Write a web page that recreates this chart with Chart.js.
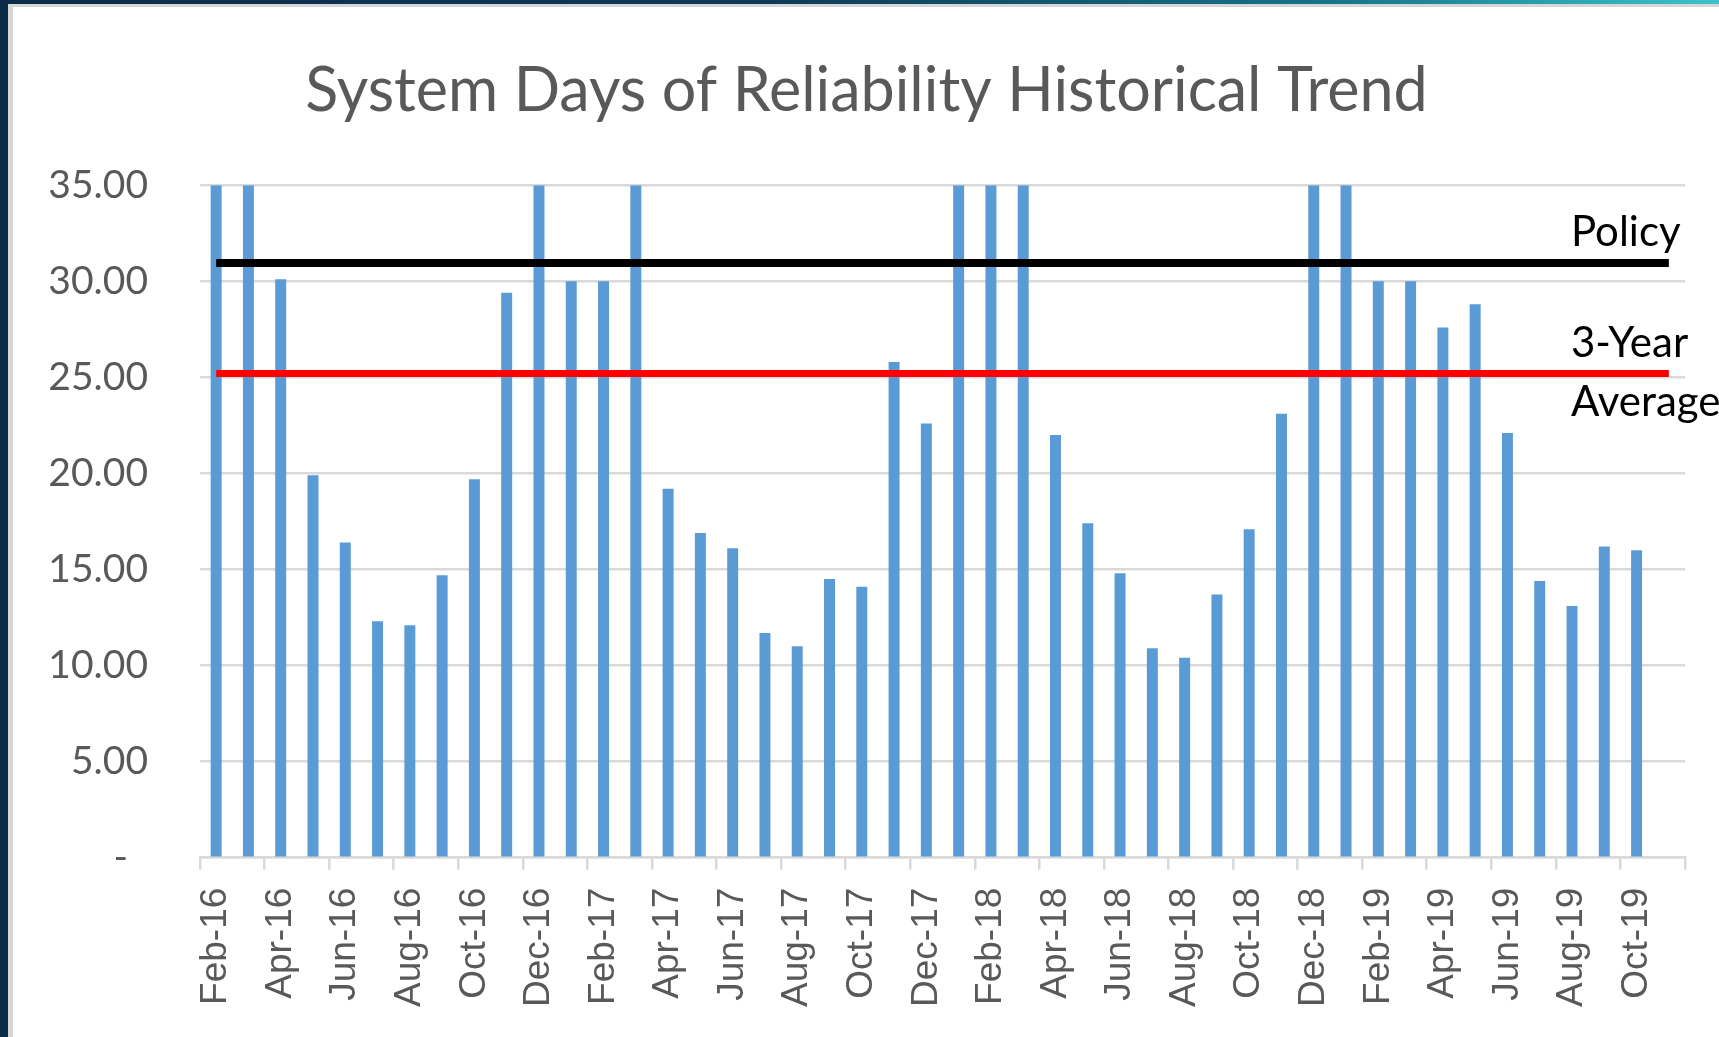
<!DOCTYPE html>
<html>
<head>
<meta charset="utf-8">
<title>System Days of Reliability Historical Trend</title>
<script src="https://cdn.jsdelivr.net/npm/chart.js@4.4.1/dist/chart.umd.min.js"></script>
<style>
    html, body { margin: 0; padding: 0; overflow: hidden; }
    body {
        width: 1719px;
        height: 1037px;
        position: relative;
        background: linear-gradient(to right, #0b2c49 0%, #0e3a5a 45%, #16768a 78%, #3fc2c9 100%);
    }
    .panel {
        position: absolute;
        left: 8px;
        top: 4px;
        right: -20px;
        bottom: -20px;
        background: #ffffff;
        border-left: 5px solid #d6d6d6;
        border-top: 3px solid #d6d6d6;
    }
    .chart-box {
        position: absolute;
        left: 0;
        top: 0;
        width: 1719px;
        height: 1037px;
    }
</style>
</head>
<body>
<div class="panel"></div>
<div class="chart-box"><canvas id="reliabilityChart"></canvas></div>

<script>
// Global data
const months = [
    "Feb-16", "Mar-16", "Apr-16", "May-16", "Jun-16", "Jul-16", "Aug-16", "Sep-16", "Oct-16", "Nov-16", "Dec-16",
    "Jan-17", "Feb-17", "Mar-17", "Apr-17", "May-17", "Jun-17", "Jul-17", "Aug-17", "Sep-17", "Oct-17", "Nov-17", "Dec-17",
    "Jan-18", "Feb-18", "Mar-18", "Apr-18", "May-18", "Jun-18", "Jul-18", "Aug-18", "Sep-18", "Oct-18", "Nov-18", "Dec-18",
    "Jan-19", "Feb-19", "Mar-19", "Apr-19", "May-19", "Jun-19", "Jul-19", "Aug-19", "Sep-19", "Oct-19", "Nov-19"
];
const daysOfReliability = [
    35.0, 35.0, 30.1, 19.9, 16.4, 12.3, 12.1, 14.7, 19.7, 29.4, 35.0,
    30.0, 30.0, 35.0, 19.2, 16.9, 16.1, 11.7, 11.0, 14.5, 14.1, 25.8, 22.6,
    35.0, 35.0, 35.0, 22.0, 17.4, 14.8, 10.9, 10.4, 13.7, 17.1, 23.1, 35.0,
    35.0, 30.0, 30.0, 27.6, 28.8, 22.1, 14.4, 13.1, 16.2, 16.0, null
];
const policyLevel = 30.95;
const threeYearAverage = 25.2;
const yTicks = [0, 5, 10, 15, 20, 25, 30, 35];

// ==============================================
// Reference line labels (Policy / 3-Year Average)
// ==============================================
const lineLabels = {
    id: "lineLabels",
    afterDatasetsDraw(chart) {
        const ctx = chart.ctx;
        const y = chart.scales.y;
        const x = chart.chartArea.right - 114;
        ctx.save();
        ctx.fillStyle = "#000000";
        ctx.font = "42px Lato";
        ctx.textAlign = "left";
        ctx.textBaseline = "alphabetic";
        ctx.fillText("Policy", x, y.getPixelForValue(policyLevel) - 17);
        ctx.fillText("3-Year", x, y.getPixelForValue(threeYearAverage) - 16);
        ctx.fillText("Average", x, y.getPixelForValue(threeYearAverage) + 43);
        ctx.restore();
    }
};

// Horizontal reference line from the first to the last month
function flatLine(value) {
    return [{ x: months[0], y: value }, { x: months[months.length - 1], y: value }];
}

// ==============================================
// Build chart
// ==============================================
function initializeChart() {
    const ctx = document.getElementById("reliabilityChart").getContext("2d");

    new Chart(ctx, {
        type: "bar",
        data: {
            labels: months,
            datasets: [
                {
                    label: "System Days of Reliability",
                    data: daysOfReliability,
                    backgroundColor: "#5b9bd5",
                    barPercentage: 0.34,
                    categoryPercentage: 1.0,
                    order: 2
                },
                {
                    type: "line",
                    label: "Policy",
                    data: flatLine(policyLevel),
                    borderColor: "#000000",
                    borderWidth: 8,
                    pointRadius: 0,
                    fill: false,
                    order: 1
                },
                {
                    type: "line",
                    label: "3-Year Average",
                    data: flatLine(threeYearAverage),
                    borderColor: "#ff0000",
                    borderWidth: 7,
                    pointRadius: 0,
                    fill: false,
                    order: 0
                }
            ]
        },
        options: {
            responsive: true,
            maintainAspectRatio: false,
            animation: false,
            layout: {
                padding: { left: 48, right: 34, top: 0, bottom: 12 }
            },
            plugins: {
                legend: { display: false },
                tooltip: { enabled: false },
                title: {
                    display: true,
                    text: "System Days of Reliability Historical Trend",
                    color: "#595959",
                    font: { family: "Lato", size: 61, weight: "normal" },
                    padding: { top: 55, bottom: 57 }
                }
            },
            scales: {
                x: {
                    offset: true,
                    // keep the rotated last label from pushing the plot inwards
                    afterFit: (scale) => { scale.paddingRight = 0; scale.paddingLeft = 0; },
                    grid: {
                        offset: true,
                        drawOnChartArea: false,
                        drawTicks: true,
                        tickLength: 12,
                        lineWidth: 2.5,
                        color: (c) => (c.index === undefined || c.index % 2 === 0) ? "#d9d9d9" : "rgba(0,0,0,0)"
                    },
                    border: { display: true, color: "#d9d9d9", width: 2.5 },
                    ticks: {
                        autoSkip: false,
                        minRotation: 90,
                        maxRotation: 90,
                        padding: 18,
                        color: "#595959",
                        font: { family: "Liberation Sans", size: 37 },
                        callback: function (value, index) {
                            return index % 2 === 0 ? this.getLabelForValue(value) : "";
                        }
                    }
                },
                y: {
                    min: yTicks[0],
                    max: yTicks[yTicks.length - 1],
                    afterBuildTicks: (scale) => { scale.ticks = yTicks.map(v => ({ value: v })); },
                    // fixed axis width so the plot starts where the original does
                    afterFit: (scale) => { scale.width = 152; },
                    grid: {
                        color: "#d9d9d9",
                        lineWidth: 2.5,
                        drawTicks: false
                    },
                    border: { display: false },
                    ticks: {
                        padding: 52,
                        color: "#595959",
                        font: { family: "Lato", size: 39 },
                        callback: (v) => v === 0 ? "-  " : v.toFixed(2)
                    }
                }
            }
        },
        plugins: [lineLabels]
    });
}

document.addEventListener("DOMContentLoaded", () => {
    initializeChart();
});
</script>
</body>
</html>
